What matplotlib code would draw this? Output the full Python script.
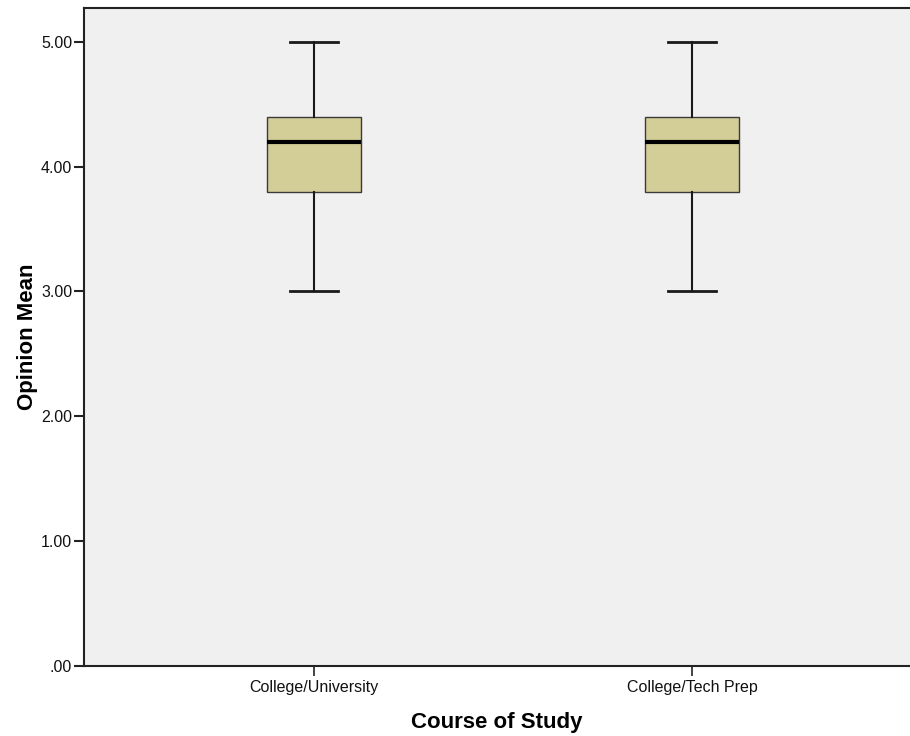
import matplotlib
matplotlib.use("Agg")
import matplotlib.pyplot as plt

categories = ["College/University", "College/Tech Prep"]
whisker_low = [3.0, 3.0]
q1 = [3.8, 3.8]
median = [4.2, 4.2]
q3 = [4.4, 4.4]
whisker_high = [5.0, 5.0]
ytick_values = [0, 1, 2, 3, 4, 5]
ytick_labels = [".00", "1.00", "2.00", "3.00", "4.00", "5.00"]

plt.rcParams['font.family'] = ['Liberation Sans', 'DejaVu Sans']

fig = plt.figure(figsize=(9.1, 7.36), dpi=100)
ax = fig.add_axes([84/910, 70/736, 1 - 84/910, (666-8)/736])
ax.set_facecolor('#F0F0F0')

stats = []
for i, c in enumerate(categories):
    stats.append(dict(label=c, whislo=whisker_low[i], q1=q1[i], med=median[i],
                      q3=q3[i], whishi=whisker_high[i], fliers=[]))

positions = list(range(1, len(categories) + 1))
ax.bxp(stats, positions=positions, widths=0.249, patch_artist=True,
       showfliers=False,
       boxprops=dict(facecolor='#D3CE97', edgecolor='#3a3a3a', linewidth=1.0),
       medianprops=dict(color='black', linewidth=3.0),
       whiskerprops=dict(color='#1a1a1a', linewidth=1.5),
       capprops=dict(color='#1a1a1a', linewidth=2.0),
       capwidths=0.127)

ax.set_xlim(0.392, 2.577)
ax.set_ylim(0, 5.27)
ax.set_yticks(ytick_values)
ax.set_yticklabels(ytick_labels)
ax.set_xticks(positions)
ax.set_xticklabels(categories)
ax.tick_params(axis='y', direction='out', length=7, width=1.5, color='#222222',
               labelsize=11.5, pad=1.5, labelcolor='#111111')
ax.tick_params(axis='x', direction='out', length=7, width=1.2, color='#222222',
               labelsize=11.5, pad=3, labelcolor='#111111')

for s in ['left', 'bottom', 'top']:
    ax.spines[s].set_color('#222222')
    ax.spines[s].set_linewidth(1.5)
ax.spines['right'].set_visible(False)

ax.set_xlabel("Course of Study", fontsize=16, fontweight='bold', labelpad=12)
ax.set_ylabel("Opinion Mean", fontsize=16, fontweight='bold', labelpad=2)

fig.savefig("out.png", dpi=100)
